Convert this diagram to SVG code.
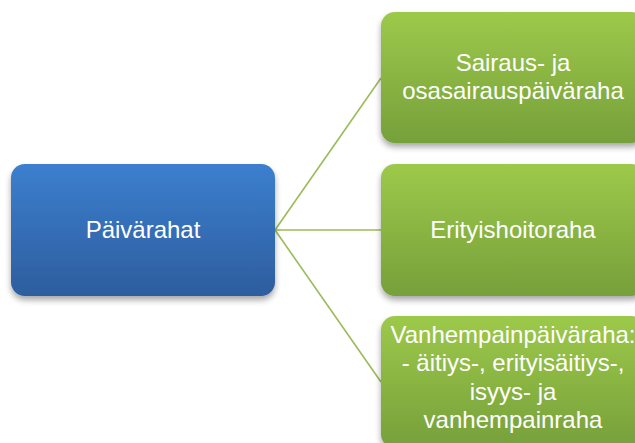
<svg xmlns="http://www.w3.org/2000/svg" width="635" height="443" viewBox="0 0 635 443">
  <defs>
    <linearGradient id="gBlue" x1="0" y1="0" x2="0" y2="1">
      <stop offset="0" stop-color="#3c7fcf"/>
      <stop offset="1" stop-color="#2d5d9e"/>
    </linearGradient>
    <linearGradient id="gGreen" x1="0" y1="0" x2="0" y2="1">
      <stop offset="0" stop-color="#9dc94b"/>
      <stop offset="1" stop-color="#76a03a"/>
    </linearGradient>
    <filter id="sh" x="-10%" y="-10%" width="120%" height="130%">
      <feGaussianBlur in="SourceAlpha" stdDeviation="3"/>
      <feOffset dx="0" dy="4" result="b"/>
      <feComponentTransfer><feFuncA type="linear" slope="0.35"/></feComponentTransfer>
      <feMerge><feMergeNode/><feMergeNode in="SourceGraphic"/></feMerge>
    </filter>
  </defs>
  <style>
    .lbl { font-family: "Liberation Sans", Arial, sans-serif; font-size: 24px; fill: #ffffff; text-anchor: middle; }
    .conn { stroke: #9bbb59; stroke-width: 1.6; fill: none; }
  </style>
  <rect width="635" height="443" fill="#ffffff"/>
  <g id="connectors">
    <line class="conn" x1="275" y1="230" x2="381" y2="78"/>
    <line class="conn" x1="275" y1="230" x2="381" y2="230"/>
    <line class="conn" x1="275" y1="230" x2="381" y2="382"/>
  </g>
  <g id="paivarahat">
    <rect x="11" y="164" width="264" height="132" rx="14" fill="url(#gBlue)" filter="url(#sh)"/>
    <text class="lbl" x="143" y="238">Päivärahat</text>
  </g>
  <g id="sairaus">
    <rect x="381" y="12" width="264" height="131" rx="14" fill="url(#gGreen)" filter="url(#sh)"/>
    <text class="lbl" x="513" y="71">Sairaus- ja</text>
    <text class="lbl" x="513" y="99">osasairauspäiväraha</text>
  </g>
  <g id="erityishoitoraha">
    <rect x="381" y="164" width="264" height="132" rx="14" fill="url(#gGreen)" filter="url(#sh)"/>
    <text class="lbl" x="513" y="238">Erityishoitoraha</text>
  </g>
  <g id="vanhempainpaivaraha">
    <rect x="381" y="316" width="264" height="132" rx="14" fill="url(#gGreen)" filter="url(#sh)"/>
    <text class="lbl" x="513" y="343">Vanhempainpäiväraha:</text>
    <text class="lbl" x="513" y="371">- äitiys-, erityisäitiys-,</text>
    <text class="lbl" x="513" y="400">isyys- ja</text>
    <text class="lbl" x="513" y="428">vanhempainraha</text>
  </g>
</svg>
